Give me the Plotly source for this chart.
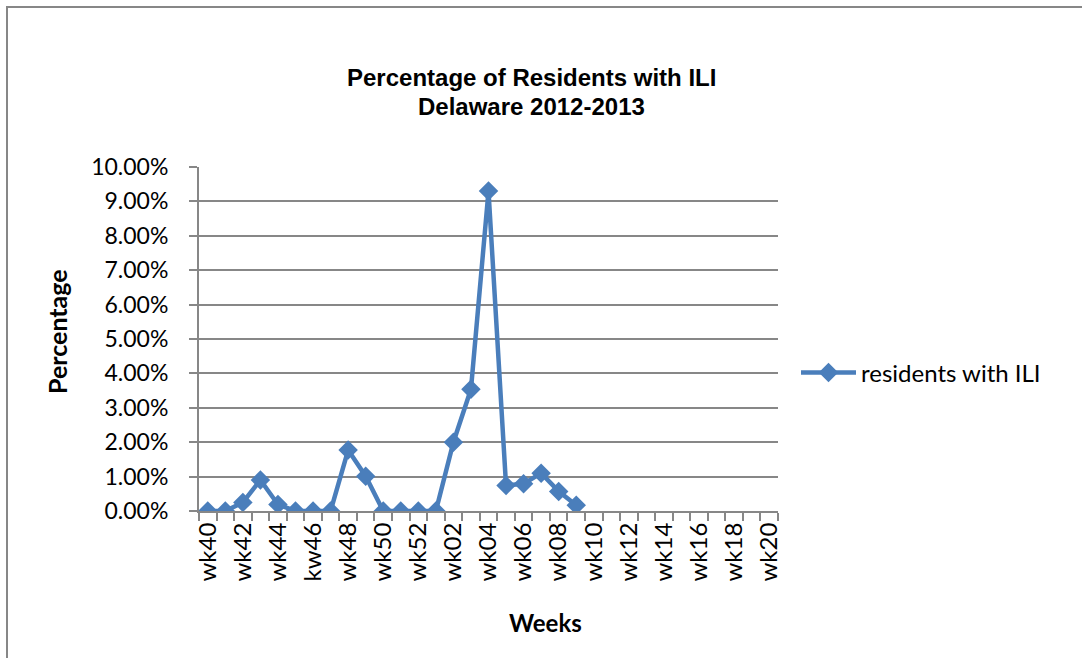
import plotly.graph_objects as go

weeks = ["wk40", "wk41", "wk42", "wk43", "wk44", "wk45", "kw46", "wk47", "wk48", "wk49",
         "wk50", "wk51", "wk52", "wk01", "wk02", "wk03", "wk04", "wk05", "wk06", "wk07",
         "wk08", "wk09", "wk10", "wk11", "wk12", "wk13", "wk14", "wk15", "wk16", "wk17",
         "wk18", "wk19", "wk20"]
# percent of residents with ILI; weeks after wk09 have no data
pct = [0.0, 0.0, 0.25, 0.90, 0.19, 0.0, 0.0, 0.0, 1.77, 1.01, 0.0, 0.0, 0.0, 0.0,
       2.0, 3.54, 9.30, 0.74, 0.79, 1.10, 0.57, 0.17]
series_name = "residents with ILI"
title_lines = ["Percentage of Residents with ILI", "Delaware 2012-2013"]
tick_labels = [w if i % 2 == 0 else "" for i, w in enumerate(weeks)]
y_ticks = [i / 100 for i in range(0, 11)]

yvals = [v / 100 for v in pct] + [None] * (len(weeks) - len(pct))

W, H = 1082, 658
L, R, T, B = 199, 304, 167, 147
pw, ph = W - L - R, H - T - B

def px(x):
    return (x - L) / pw

def py(y):
    return (H - B - y) / ph

BLUE = "#4a7ebb"
GRID = "#878787"
FONT = "Lato"
TITLE_FONT = "Liberation Sans, Arial"

fig = go.Figure()
fig.add_trace(go.Scatter(
    x=weeks, y=yvals, mode="lines+markers", name=series_name,
    line=dict(color=BLUE, width=4.5),
    marker=dict(symbol="diamond", size=15, color=BLUE),
    connectgaps=False,
))

fig.update_layout(
    width=W, height=H,
    margin=dict(l=L, r=R, t=T, b=B),
    paper_bgcolor="white", plot_bgcolor="white",
    showlegend=True,
    legend=dict(x=px(796), y=py(373), xanchor="left", yanchor="middle",
                itemwidth=55,
                font=dict(family=FONT, size=24, color="#000"),
                bgcolor="rgba(0,0,0,0)"),
    xaxis=dict(
        type="category", categoryorder="array", categoryarray=weeks,
        range=[-0.5, len(weeks) - 0.5],
        tickmode="array", tickvals=weeks, ticktext=tick_labels,
        tickson="boundaries", ticks="outside", ticklen=8, tickwidth=1.5, tickcolor=GRID,
        tickangle=-90, tickfont=dict(family=FONT, size=24, color="#000"),
        showline=True, linecolor=GRID, linewidth=2,
        showgrid=False, zeroline=False,
    ),
    yaxis=dict(
        range=[0, 0.1], tickmode="array", tickvals=y_ticks, tickformat=".2%",
        ticks="outside", ticklen=8, tickwidth=1.5, tickcolor=GRID,
        ticklabelstandoff=16,
        tickfont=dict(family=FONT, size=23, color="#000"),
        showline=True, linecolor=GRID, linewidth=2,
        showgrid=True, gridcolor=GRID, gridwidth=1.5, zeroline=False,
    ),
    annotations=[
        dict(text="<b>" + title_lines[0] + "</b>",
             x=px(531), y=py(77), xref="paper", yref="paper", showarrow=False,
             xanchor="center", yanchor="middle",
             font=dict(family=TITLE_FONT, size=24, color="#000")),
        dict(text="<b>" + title_lines[1] + "</b>",
             x=px(531), y=py(107), xref="paper", yref="paper", showarrow=False,
             xanchor="center", yanchor="middle",
             font=dict(family=TITLE_FONT, size=24, color="#000")),
        dict(text="<b>Percentage</b>", textangle=-90,
             x=px(57), y=py(332), xref="paper", yref="paper", showarrow=False,
             xanchor="center", yanchor="middle",
             font=dict(family=FONT, size=25, color="#000")),
        dict(text="<b>Weeks</b>",
             x=px(545), y=py(622), xref="paper", yref="paper", showarrow=False,
             xanchor="center", yanchor="middle",
             font=dict(family=FONT, size=24, color="#000")),
    ],
    shapes=[
        dict(type="rect", xref="paper", yref="paper",
             x0=px(7), x1=px(1100), y0=py(7), y1=py(680),
             line=dict(color=GRID, width=2), fillcolor="rgba(0,0,0,0)", layer="below"),
    ],
)

fig.write_html("out.html", config={"displayModeBar": False},
               post_script="document.body.style.margin='0';")
